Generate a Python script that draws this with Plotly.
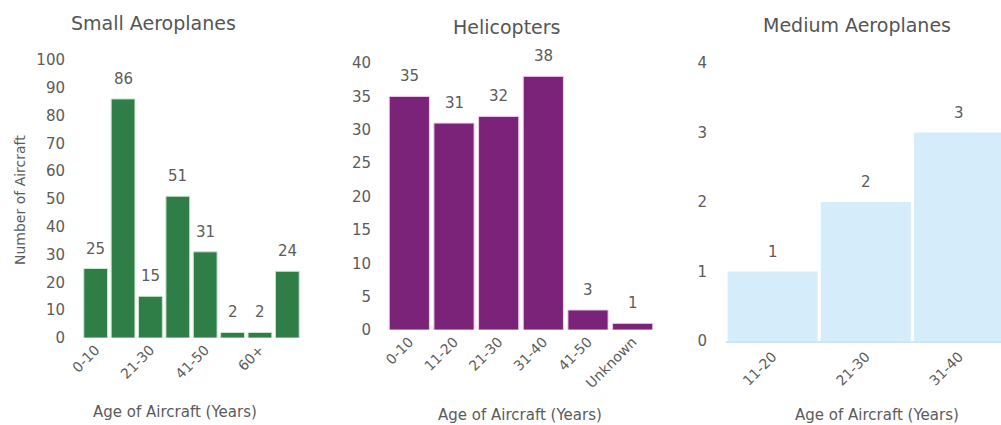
import plotly.graph_objects as go

W, H = 1001, 425

small_cats = ["0-10", "11-20", "21-30", "31-40", "41-50", "51-60", "60+", "Unknown"]
small_vals = [25, 86, 15, 51, 31, 2, 2, 24]
small_ticks = ["0-10", "21-30", "41-50", "60+"]

heli_cats = ["0-10", "11-20", "21-30", "31-40", "41-50", "Unknown"]
heli_vals = [35, 31, 32, 38, 3, 1]

med_cats = ["11-20", "21-30", "31-40"]
med_vals = [1, 2, 3]

titles = ["Small Aeroplanes", "Helicopters", "Medium Aeroplanes"]
x_title = "Age of Aircraft (Years)"
y_title = "Number of Aircraft"

FONT = "DejaVu Sans"
GRAY = "#5b5b5b"


def px_x(p):
    return p / W


def px_y(p):
    return (H - p) / H


fig = go.Figure()

fig.add_trace(go.Bar(x=small_cats, y=small_vals, width=0.87,
                     marker=dict(color="#2f7d47", line=dict(color="#cde8cf", width=1)),
                     xaxis="x", yaxis="y", showlegend=False))
fig.add_trace(go.Bar(x=heli_cats, y=heli_vals, width=0.9,
                     marker=dict(color="#7b2378", line=dict(color="#f2cdef", width=1)),
                     xaxis="x2", yaxis="y2", showlegend=False))
fig.add_trace(go.Bar(x=med_cats, y=med_vals, width=0.965,
                     marker=dict(color="#d5ecfb", line=dict(width=0)),
                     xaxis="x3", yaxis="y3", showlegend=False))

common_x = dict(showgrid=False, zeroline=False, tickangle=-45, showline=False, automargin=False,
                tickfont=dict(color=GRAY, size=14, family=FONT), ticks="")
common_y = dict(showgrid=False, zeroline=False, showline=False, ticks="", automargin=False,
                tickfont=dict(color=GRAY, size=15, family=FONT))

fig.update_layout(
    width=W, height=H,
    margin=dict(l=0, r=0, t=0, b=0, autoexpand=False),
    paper_bgcolor="white", plot_bgcolor="white",
    font=dict(family=FONT, color=GRAY),
    xaxis=dict(domain=[px_x(82), px_x(301)], anchor="y", tickmode="array",
               tickvals=small_ticks, ticktext=small_ticks, range=[-0.5, 7.5], **common_x),
    yaxis=dict(domain=[px_y(338), px_y(60)], anchor="x", range=[0, 100], dtick=10,
               ticklabelstandoff=16, **common_y),
    xaxis2=dict(domain=[px_x(387), px_x(655)], anchor="y2", range=[-0.5, 5.5], **common_x),
    yaxis2=dict(domain=[px_y(330), px_y(63)], anchor="x2", range=[0, 40], dtick=5,
                ticklabelstandoff=15, **common_y),
    xaxis3=dict(domain=[px_x(726), px_x(1001)], anchor="y3", range=[-0.5, 2.45],
                **{**common_x, "showline": True, "linecolor": "#cde6f7", "linewidth": 2}),
    yaxis3=dict(domain=[px_y(341), px_y(63)], anchor="x3", range=[0, 4], dtick=1,
                ticklabelstandoff=18, **common_y),
)

annotations = []
for cats, vals, ax in [(small_cats, small_vals, ""), (heli_cats, heli_vals, "2"), (med_cats, med_vals, "3")]:
    for c, v in zip(cats, vals):
        annotations.append(dict(text=str(v), x=c, y=v, xref="x" + ax, yref="y" + ax,
                                xanchor="center", yanchor="middle", yshift=20, showarrow=False,
                                font=dict(size=15, color=GRAY, family=FONT)))

title_pos = [(153, 23), (507, 27), (857, 25)]
for t, (tx, ty) in zip(titles, title_pos):
    annotations.append(dict(text=t, x=px_x(tx), y=px_y(ty), xref="paper", yref="paper",
                            xanchor="center", yanchor="middle", showarrow=False,
                            font=dict(size=19, color="#555555", family=FONT)))

for tx, ty in [(175, 412), (520, 415), (877, 415)]:
    annotations.append(dict(text=x_title, x=px_x(tx), y=px_y(ty), xref="paper", yref="paper",
                            xanchor="center", yanchor="middle", showarrow=False,
                            font=dict(size=15, color=GRAY, family=FONT)))

annotations.append(dict(text=y_title, x=px_x(20), y=px_y(200), xref="paper", yref="paper",
                        xanchor="center", yanchor="middle", textangle=-90, showarrow=False,
                        font=dict(size=14, color=GRAY, family=FONT)))

fig.update_layout(annotations=annotations)

fig.write_html("out.html", config={"displayModeBar": False},
               post_script="document.body.style.margin='0';document.body.style.padding='0';")
